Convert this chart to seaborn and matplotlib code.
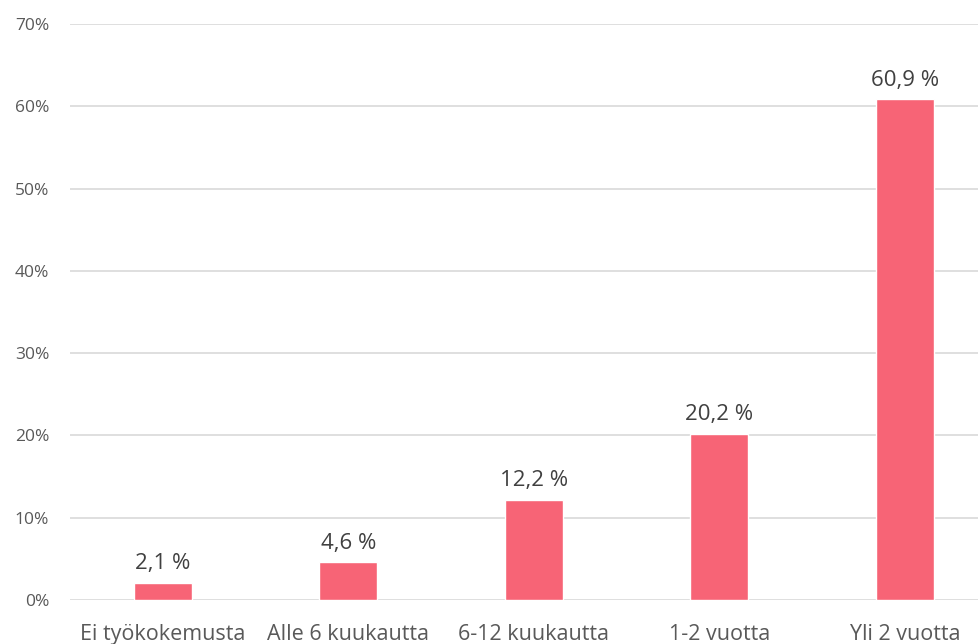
import matplotlib
matplotlib.use("Agg")
import matplotlib.pyplot as plt
import seaborn as sns
import pandas as pd

categories = ["Ei työkokemusta", "Alle 6 kuukautta", "6-12 kuukautta", "1-2 vuotta", "Yli 2 vuotta"]
values = [2.1, 4.6, 12.2, 20.2, 60.9]
yticks = [0, 10, 20, 30, 40, 50, 60, 70]

sns.set_theme(style="white")
plt.rcParams["font.family"] = ["Open Sans", "DejaVu Sans"]

df = pd.DataFrame({"cat": categories, "val": values})

fig = plt.figure(figsize=(9.79, 6.44), dpi=100)
ax = fig.add_axes([70 / 979, 44 / 644, 1 - 70 / 979, 576 / 644])

sns.barplot(data=df, x="cat", y="val", color="#F76476", width=0.313, saturation=1, ax=ax, zorder=3)

ax.set_ylim(0, 70)
ax.set_xlim(-0.5, 4.4)
ax.set_yticks(yticks)
ax.set_yticklabels([f"{t}%" for t in yticks], color="#595959", fontsize=12.5)
ax.tick_params(axis="x", colors="#595959", labelsize=15.5, pad=17, length=0)
ax.tick_params(axis="y", length=0, pad=15)
ax.set_xlabel("")
ax.set_ylabel("")
ax.yaxis.grid(True, color="#D9D9D9", linewidth=1.2, zorder=0)
for s in ax.spines.values():
    s.set_visible(False)

for i, v in enumerate(values):
    ax.annotate(f"{v:.1f} %".replace(".", ","), (i, v), xytext=(0, 6), textcoords="offset points",
                ha="center", va="bottom", fontsize=16, color="#404040")

fig.savefig("out.png", dpi=100)
